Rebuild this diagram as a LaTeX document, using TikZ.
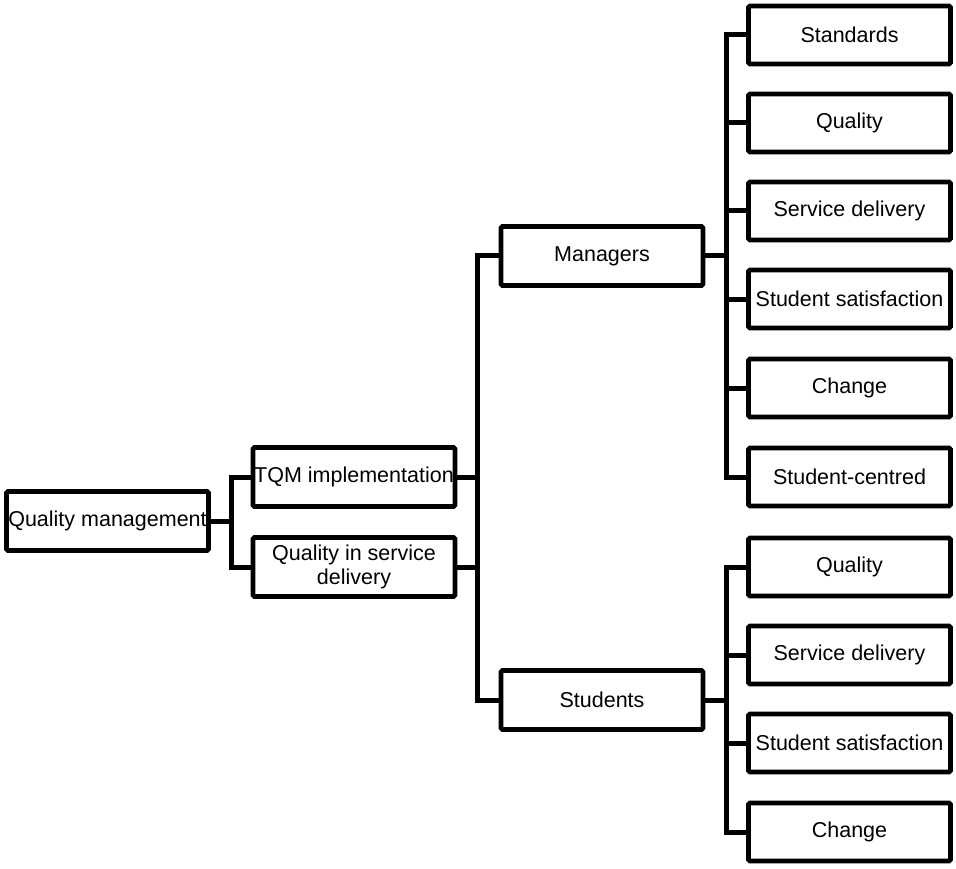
\documentclass[tikz,border=0pt]{standalone}
\usepackage{fontspec}
\setmainfont{Liberation Sans}
\begin{document}
\begin{tikzpicture}[x=1pt,y=-1pt,
  box/.style={draw, line width=4.7pt, rounded corners=1.5pt, inner sep=0pt,
    minimum width=202pt, minimum height=59pt, align=center,
    font=\fontsize{21.5pt}{24pt}\selectfont},
  leaf/.style={box, minimum height=58pt},
  link/.style={line width=5pt, line join=miter}]
\useasboundingbox (0,0) rectangle (956,869);

% root and first level
\node[box] (qm)   at (107.5,521) {Quality management};
\node[box] (tqm)  at (354,477) {TQM implementation};
\node[box] (qisd) at (354,567) {Quality in service\\delivery};

% second level
\node[box] (mgr) at (602,256) {Managers};
\node[box] (stu) at (602,700) {Students};

% managers' topics
\node[leaf] (m1) at (849.5,35)  {Standards};
\node[leaf] (m2) at (849.5,123) {Quality};
\node[leaf] (m3) at (849.5,211) {Service delivery};
\node[leaf] (m4) at (849.5,299) {Student satisfaction};
\node[leaf] (m5) at (849.5,388) {Change};
\node[leaf] (m6) at (849.5,477) {Student-centred};

% students' topics
\node[leaf] (s1) at (849.5,567) {Quality};
\node[leaf] (s2) at (849.5,655) {Service delivery};
\node[leaf] (s3) at (849.5,743) {Student satisfaction};
\node[leaf] (s4) at (849.5,832) {Change};

% bracket junctions
\coordinate (j1) at (231,521);
\coordinate (j2) at (477,477);
\coordinate (j3) at (726,256);
\coordinate (j4) at (726,700);

% root to first level
\draw[link] (qm.east) -- (j1);
\draw[link] (tqm.west) -| (j1) |- (qisd.west);

% first level to second level
\draw[link] (mgr.west) -| (j2) |- (stu.west);
\draw[link] (tqm.east) -- (tqm.east -| j2);
\draw[link] (qisd.east) -- (qisd.east -| j2);

% managers to their topics
\draw[link] (mgr.east) -- (j3);
\draw[link] (m1.west) -| (j3) |- (m6.west);
\foreach \n in {m2,m3,m4,m5} \draw[link] (\n.west) -- (\n.west -| j3);

% students to their topics
\draw[link] (stu.east) -- (j4);
\draw[link] (s1.west) -| (j4) |- (s4.west);
\foreach \n in {s2,s3} \draw[link] (\n.west) -- (\n.west -| j4);
\end{tikzpicture}
\end{document}
